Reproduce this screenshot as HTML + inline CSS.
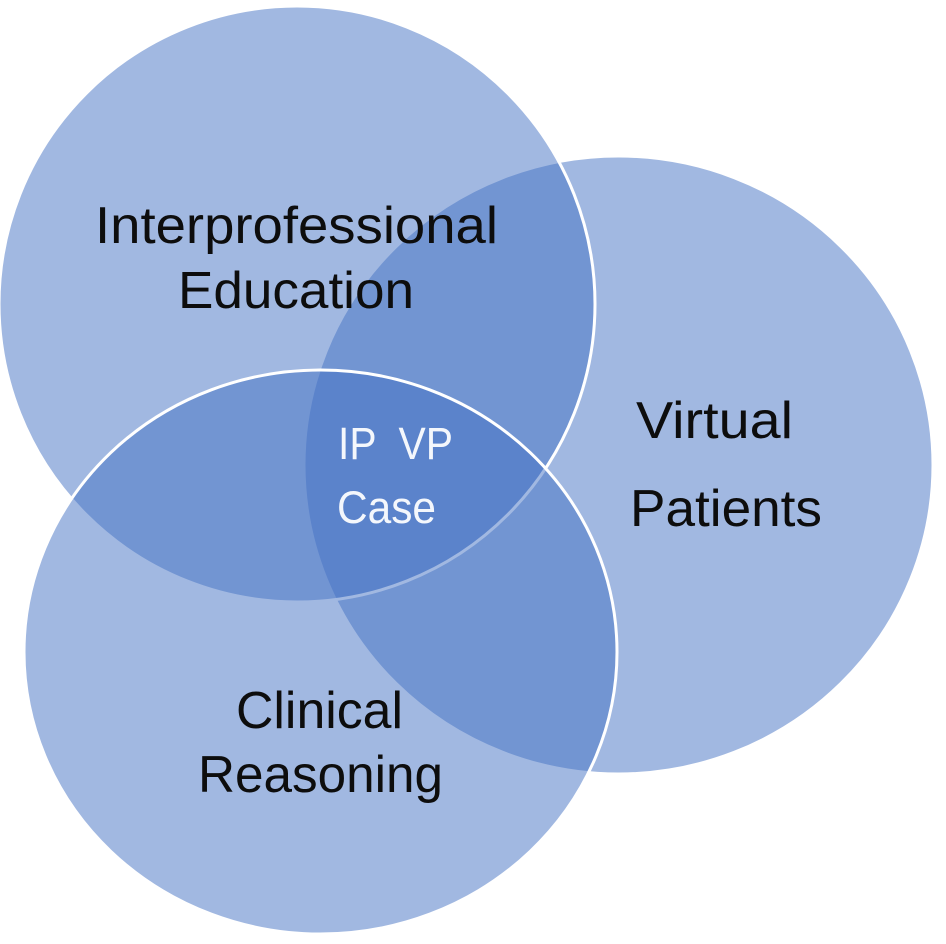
<!DOCTYPE html>
<html>
<head>
<meta charset="utf-8">
<style>
html,body{margin:0;padding:0;background:#fff;}
svg{display:block;}
text{font-family:"Liberation Sans",sans-serif;}
</style>
</head>
<body>
<svg width="946" height="944" viewBox="0 0 946 944" xmlns="http://www.w3.org/2000/svg">
<rect width="946" height="944" fill="#fff"/>
<g fill="#4472C4" fill-opacity="0.5" stroke="#fff" stroke-width="3">
<ellipse cx="618.5" cy="465" rx="314.5" ry="309"/>
<ellipse cx="297" cy="304" rx="298" ry="298"/>
<ellipse cx="320.500" cy="652" rx="296.500" ry="282"/>
</g>
<g fill="#0d0d0d" font-size="52">
<text x="95" y="243" textLength="403" lengthAdjust="spacingAndGlyphs">Interprofessional</text>
<text x="178" y="308" textLength="236" lengthAdjust="spacingAndGlyphs">Education</text>
<text x="636" y="438" textLength="157" lengthAdjust="spacingAndGlyphs">Virtual</text>
<text x="630" y="526" textLength="192" lengthAdjust="spacingAndGlyphs">Patients</text>
<text x="236" y="728" textLength="167" lengthAdjust="spacingAndGlyphs">Clinical</text>
<text x="198" y="792" textLength="245" lengthAdjust="spacingAndGlyphs">Reasoning</text>
</g>
<g fill="#f4f7fc" font-size="45">
<text x="338" y="459" textLength="115" lengthAdjust="spacingAndGlyphs" xml:space="preserve">IP  VP</text>
<text x="337" y="523" textLength="99" lengthAdjust="spacingAndGlyphs">Case</text>
</g>
</svg>
</body>
</html>
